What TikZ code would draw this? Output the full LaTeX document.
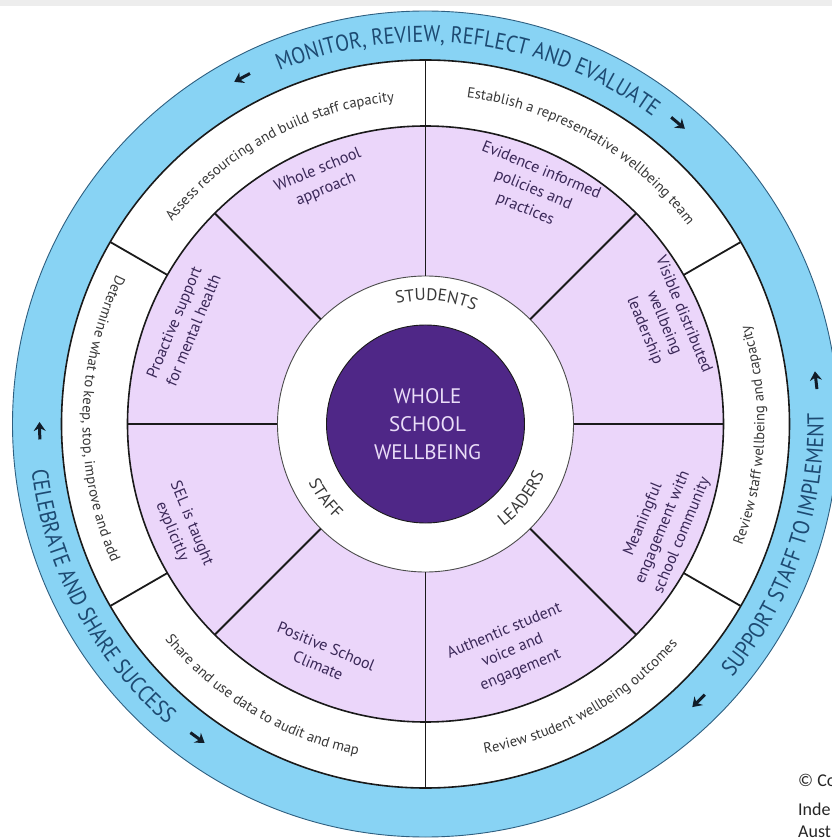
\documentclass[tikz,border=0pt]{standalone}
\usepackage{fontspec}
\setmainfont{PT Sans}
\newfontfamily\ptsans{PT Sans}
\newfontfamily\ptnarrow[FakeStretch=0.88]{PT Sans}
\newfontfamily\carlito{Carlito}
\usetikzlibrary{decorations.text,arrows.meta}
\definecolor{ringblue}{HTML}{88D3F4}
\definecolor{ringedge}{HTML}{2E5F80}
\definecolor{btext}{HTML}{1D4A72}
\definecolor{lav}{HTML}{EBD6FA}
\definecolor{deep}{HTML}{4F2787}
\definecolor{ptext}{HTML}{3A2858}
\definecolor{wtext}{HTML}{383838}
\definecolor{ctext}{HTML}{EADDF8}
\definecolor{linecol}{HTML}{1A1A1A}
\definecolor{arrowcol}{HTML}{111C28}
\begin{document}
\begin{tikzpicture}[x=1pt,y=1pt,
  divider/.style={line width=1.8pt, draw=linecol},
  segtext/.style={font=\ptsans\fontsize{16}{21}\selectfont, text=ptext, align=center, inner sep=0pt},
  coretext/.style={font=\ptsans\fontsize{21}{28}\selectfont, text=ctext, align=center},
  ringarrow/.style={line width=3pt, draw=arrowcol, -{Stealth[length=9pt,width=12pt,inset=3pt]}},
  copytext/.style={font=\carlito\fontsize{18}{22}\selectfont, text=black!85, anchor=west, inner sep=0pt}
]
\useasboundingbox (-425.5,-414) rectangle (406.5,424);
\clip (-425.5,-414) rectangle (406.5,424);
\fill[white] (-425.5,-414) rectangle (406.5,424);
\fill[black!7] (-425.5,418) rectangle (406.5,424);

% rings
\filldraw[fill=ringblue, draw=ringedge, line width=0.9pt] (0,0) circle[radius=413pt];
\filldraw[fill=white, draw=linecol, line width=1.6pt] (0,0) circle[radius=364pt];
\filldraw[fill=lav, draw=linecol, line width=1.6pt] (0,0) circle[radius=298pt];
\filldraw[fill=white, draw=black!70, line width=0.9pt] (0,0) circle[radius=148pt];
\filldraw[fill=deep, draw=linecol, line width=0.9pt] (0,0) circle[radius=99pt];

% dividers
\foreach \a in {30,150,210,330} \draw[divider] (\a:298pt) -- (\a:364pt);
\foreach \a in {90,270} \draw[divider] (\a:148pt) -- (\a:364pt);
\foreach \a in {0,45,135,180,225,315} \draw[divider] (\a:148pt) -- (\a:298pt);

% centre
\node[coretext] (core) at (2,0) {WHOLE\\SCHOOL\\WELLBEING};

% inner ring labels
\path[decorate, decoration={text along path, text align=center,
  text={|\ptsans\fontsize{17}{17}\selectfont\color{wtext}|STUDENTS}}]
  (125:123.5pt) arc[start angle=125, end angle=45, radius=123.5pt];
\path[decorate, decoration={text along path, text align=center,
  text={|\ptsans\fontsize{17}{17}\selectfont\color{wtext}|LEADERS}}]
  (-77.8:129pt) arc[start angle=-77.8, end angle=2.2, radius=129pt];
\path[decorate, decoration={text along path, text align=center,
  text={|\ptsans\fontsize{17}{17}\selectfont\color{wtext}|STAFF}}]
  (176.7:131pt) arc[start angle=176.7, end angle=256.7, radius=131pt];

% purple segments
\node[segtext, rotate=22.5] (s1) at (113:265pt) {Whole school\\approach};
\node[segtext, rotate=-22.5] (s2) at (65.3:257.5pt) {Evidence informed\\policies and\\practices};
\node[segtext, rotate=-67.5] (s3) at (23:259pt) {Visible distributed\\wellbeing\\leadership};
\node[segtext, rotate=67.5] (s4) at (-23.6:259pt) {Meaningful\\engagement with\\school community};
\node[segtext, rotate=22.5] (s5) at (-69:243pt) {Authentic student\\voice and\\engagement};
\node[segtext, rotate=-22.5] (s6) at (-114:254pt) {Positive School\\Climate};
\node[segtext, rotate=-67.5] (s7) at (203:265pt) {SEL is taught\\explicitly};
\node[segtext, rotate=67.5] (s8) at (158:261pt) {Proactive support\\for mental health};

% outer white ring texts
\path[decorate, decoration={text along path, text align=center,
  text={|\ptsans\fontsize{14.6}{17}\selectfont\color{wtext}|Assess resourcing and build staff capacity}}]
  (158.5:324pt) arc[start angle=158.5, end angle=78.5, radius=324pt];
\path[decorate, decoration={text along path, text align=center,
  text={|\ptsans\fontsize{14.6}{17}\selectfont\color{wtext}|Establish a representative wellbeing team}}]
  (100:329pt) arc[start angle=100, end angle=20, radius=329pt];
\path[decorate, decoration={text along path, text align=center,
  text={|\ptsans\fontsize{14.6}{17}\selectfont\color{wtext}|Review staff wellbeing and capacity}}]
  (-42:339pt) arc[start angle=-42, end angle=38, radius=339pt];
\path[decorate, decoration={text along path, text align=center,
  text={|\ptsans\fontsize{14.6}{17}\selectfont\color{wtext}|Review student wellbeing outcomes}}]
  (-100.5:335pt) arc[start angle=-100.5, end angle=-20.5, radius=335pt];
\path[decorate, decoration={text along path, text align=center,
  text={|\ptsans\fontsize{14.6}{17}\selectfont\color{wtext}|Share and use data to audit and map}}]
  (199:338pt) arc[start angle=199, end angle=279, radius=338pt];
\path[decorate, decoration={text along path, text align=center,
  text={|\ptsans\fontsize{14.6}{17}\selectfont\color{wtext}|Determine what to keep, stop, improve and add}}]
  (139:343pt) arc[start angle=139, end angle=219, radius=343pt];

% blue ring texts
\path[decorate, decoration={text along path, text align=center,
  text={|\ptnarrow\fontsize{23}{23}\selectfont\color{btext}|MONITOR, REVIEW, REFLECT AND EVALUATE}}]
  (128:382pt) arc[start angle=128, end angle=38, radius=382pt];
\path[decorate, decoration={text along path, text align=center,
  text={|\ptnarrow\fontsize{23}{23}\selectfont\color{btext}|SUPPORT STAFF TO IMPLEMENT}}]
  (-59:398pt) arc[start angle=-59, end angle=21, radius=398pt];
\path[decorate, decoration={text along path, text align=center,
  text={|\ptnarrow\fontsize{23}{23}\selectfont\color{btext}|CELEBRATE AND SHARE SUCCESS}}]
  (168:396.5pt) arc[start angle=168, end angle=248, radius=396.5pt];

% ring arrows
\coordinate (a1s) at (116.6:392pt); \coordinate (a1e) at (119.2:392pt);
\coordinate (a2s) at (51.3:393pt);  \coordinate (a2e) at (48.7:393pt);
\coordinate (a3s) at (5.1:393pt);   \coordinate (a3e) at (7.7:393pt);
\coordinate (a4s) at (-44.1:389pt); \coordinate (a4e) at (-46.7:389pt);
\coordinate (a5s) at (182.3:386pt); \coordinate (a5e) at (179.7:386pt);
\coordinate (a6s) at (232.7:388pt); \coordinate (a6e) at (235.3:388pt);
\foreach \i in {1,...,6} \draw[ringarrow] (a\i s) -- (a\i e);

% copyright
\node[copytext] (c1) at (372.5,-356) {© Co};
\node[copytext] (c2) at (372.5,-385) {Inde};
\node[copytext] (c3) at (372.5,-408) {Aust};
\end{tikzpicture}
\end{document}
